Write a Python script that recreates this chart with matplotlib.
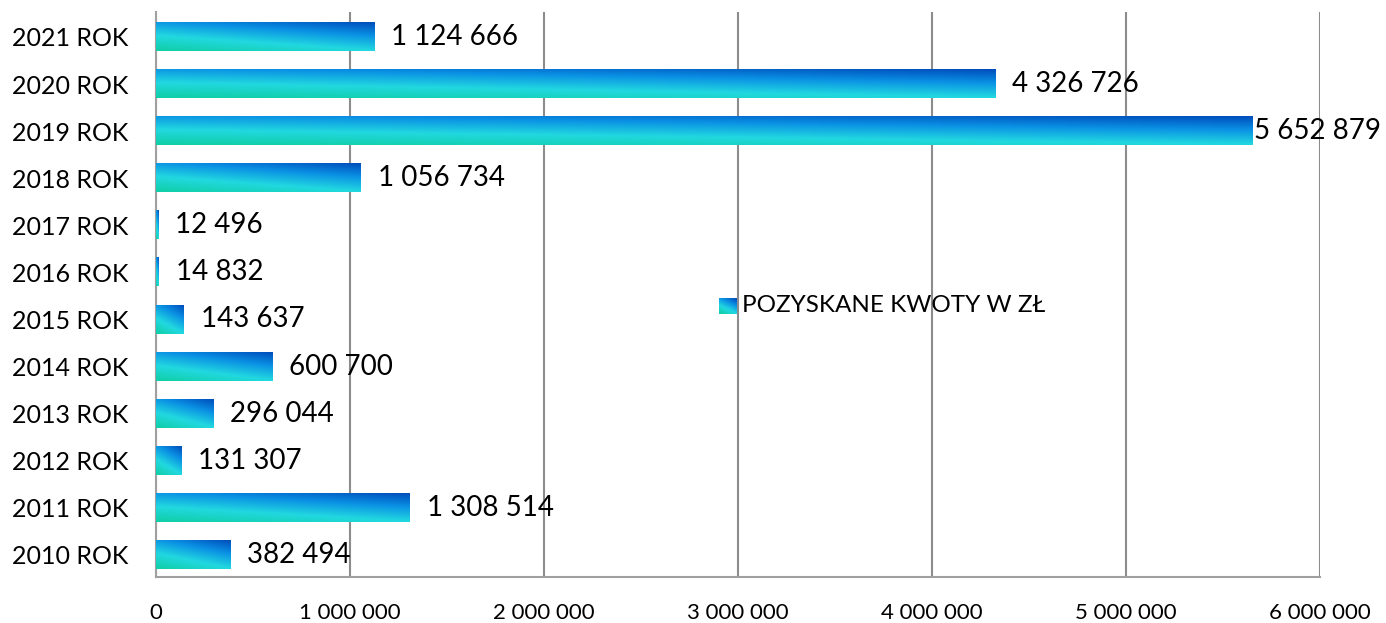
import numpy as np
import matplotlib.pyplot as plt
from matplotlib.colors import LinearSegmentedColormap

# data
years = ['2010 ROK', '2011 ROK', '2012 ROK', '2013 ROK', '2014 ROK', '2015 ROK',
         '2016 ROK', '2017 ROK', '2018 ROK', '2019 ROK', '2020 ROK', '2021 ROK']
amounts = [382494, 1308514, 131307, 296044, 600700, 143637,
           14832, 12496, 1056734, 5652879, 4326726, 1124666]
xticks = [0, 1000000, 2000000, 3000000, 4000000, 5000000, 6000000]
legend_label = 'POZYSKANE KWOTY W ZŁ'

plt.rcParams['font.family'] = ['Lato', 'DejaVu Sans']

grad = LinearSegmentedColormap.from_list(
    'bar', [(0.0, '#10cfa8'), (0.35, '#22d8e0'), (0.7, '#0a90e4'), (1.0, '#0050bc')])


def gradient_img(nx=60, ny=20):
    xf = np.linspace(0, 1, nx)[None, :]
    yf = np.linspace(0, 1, ny)[:, None]
    return 0.35 * xf + 0.65 * yf


def fmt(v):
    return f'{int(v):,}'.replace(',', ' ')


fig = plt.figure(figsize=(13.86, 6.23), dpi=100)
ax = fig.add_axes([0.1126, 1 - 577 / 623, 0.9524 - 0.1126, (577 - 12) / 623])

h = 0.6
img = gradient_img()
for i, v in enumerate(amounts):
    ax.imshow(img, cmap=grad, vmin=0, vmax=1, origin='lower', aspect='auto',
              extent=[0, v, i - h / 2, i + h / 2], interpolation='bilinear', zorder=3)
    off = 12
    if v > 5500000:
        off = 1
    ax.annotate(fmt(v), (v, i), xytext=(off, 0), textcoords='offset points',
                va='center', ha='left', fontsize=20, color='black', zorder=4)

ax.set_xlim(0, 6000000)
ax.set_ylim(-0.47, 11.53)
ax.set_yticks(range(len(years)))
ax.set_yticklabels(years, fontsize=18)
ax.set_xticks(xticks)
ax.set_xticklabels([fmt(t) for t in xticks], fontsize=16)
ax.tick_params(axis='x', length=0, pad=19)
ax.tick_params(axis='y', length=0, pad=20)
ax.grid(axis='x', color='#8c8c8c', linewidth=1.5, zorder=1)
ax.set_axisbelow(True)
for s in ['top', 'right']:
    ax.spines[s].set_visible(False)
for s in ['left', 'bottom']:
    ax.spines[s].set_color('#a0a0a0')
    ax.spines[s].set_linewidth(1.5)

# legend marker and text
lax = fig.add_axes([719 / 1386, 1 - 314 / 623, 17 / 1386, 16 / 623])
lax.imshow(gradient_img(10, 10), cmap=grad, vmin=0, vmax=1,
           origin='lower', aspect='auto', interpolation='bilinear')
lax.axis('off')
fig.text(742 / 1386, 1 - 306 / 623, legend_label, fontsize=17.5, va='center', ha='left')

fig.savefig('out.png', dpi=100)
